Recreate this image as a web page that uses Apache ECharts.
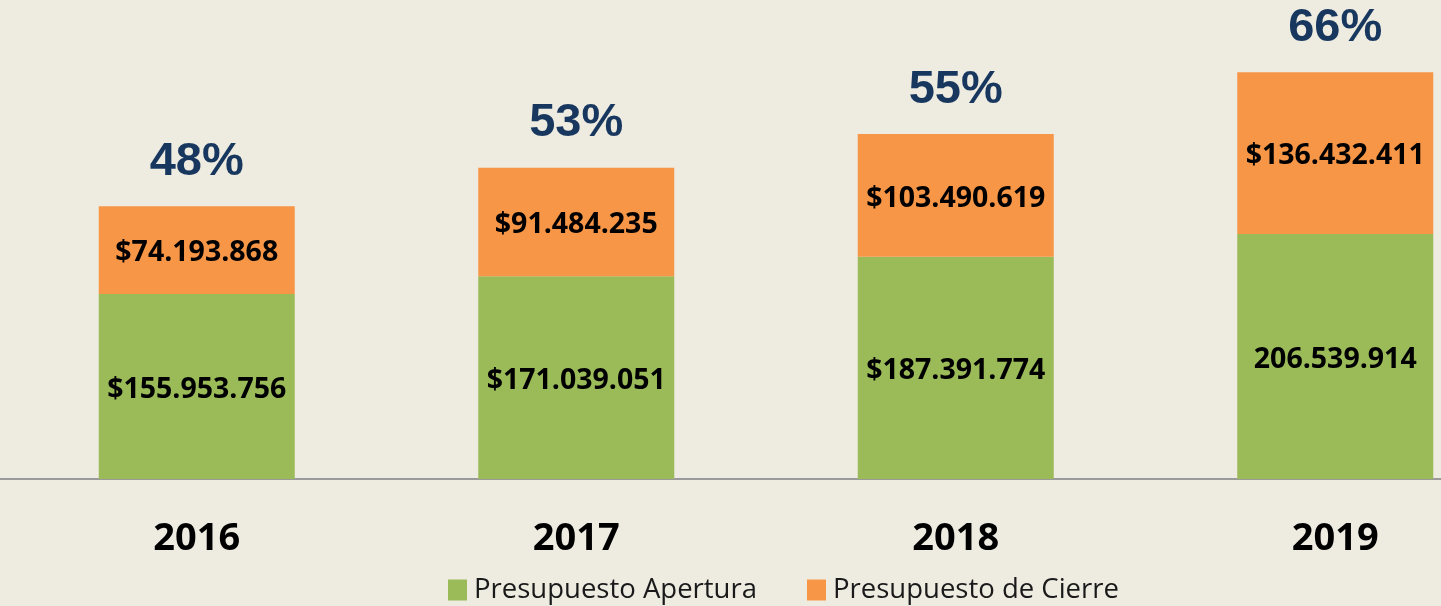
<!DOCTYPE html>
<html>
<head>
<meta charset="utf-8">
<script src="https://cdn.jsdelivr.net/npm/echarts@6/dist/echarts.min.js"></script>
<style>
  html, body { margin: 0; padding: 0; background: #EEEBE1; overflow: hidden; }
  #chart { width: 1525px; height: 606px; }
</style>
</head>
<body>
<div id="chart"></div>
<script>
// Budget per year: opening budget and closing budget
const years = ['2016', '2017', '2018', '2019'];
const apertura = [155953756, 171039051, 187391774, 206539914];
const cierre = [74193868, 91484235, 103490619, 136432411];
const aperturaPrefix = ['$', '$', '$', ''];
const cierrePrefix = ['$', '$', '$', '$'];
const pctLabels = ['48%', '53%', '55%', '66%'];

function fmt(v) {
  return String(v).replace(/\B(?=(\d{3})+(?!\d))/g, '.');
}

const valueLabel = {
  show: true,
  position: 'inside',
  offset: [0, 3],
  fontFamily: 'Open Sans',
  fontWeight: 'bold',
  fontSize: 28.5,
  color: '#000'
};

const chart = echarts.init(document.getElementById('chart'));
chart.setOption({
  backgroundColor: '#EEEBE1',
  animation: false,
  grid: { left: 7, right: 0, top: 0, bottom: 127 },
  legend: {
    data: ['Presupuesto Apertura', 'Presupuesto de Cierre'],
    left: 443,
    bottom: -3,
    itemWidth: 19,
    itemHeight: 21,
    itemGap: 50,
    icon: 'rect',
    textStyle: { fontFamily: 'Open Sans', fontSize: 27.5, color: '#1a1a1a', padding: [0, 0, 0, 2] }
  },
  xAxis: {
    type: 'category',
    data: years,
    axisLine: { lineStyle: { color: '#9a9a9a', width: 2 } },
    axisTick: { show: false },
    axisLabel: {
      margin: 41,
      fontFamily: 'Open Sans',
      fontWeight: 'bold',
      fontSize: 38,
      color: '#000'
    }
  },
  yAxis: {
    type: 'value',
    min: 0,
    max: 404000000,
    show: false,
    splitLine: { show: false }
  },
  // baseline continues to the left page edge
  graphic: [{
    type: 'line',
    shape: { x1: 0, y1: 479, x2: 8, y2: 479 },
    style: { stroke: '#9a9a9a', lineWidth: 2 }
  }],
  series: [
    {
      name: 'Presupuesto Apertura',
      type: 'bar',
      stack: 'total',
      barWidth: 196,
      data: apertura,
      itemStyle: { color: '#9BBB59' },
      label: Object.assign({}, valueLabel, {
        formatter: p => aperturaPrefix[p.dataIndex] + fmt(p.value)
      })
    },
    {
      name: 'Presupuesto de Cierre',
      type: 'bar',
      stack: 'total',
      barWidth: 196,
      data: cierre,
      itemStyle: { color: '#F79646' },
      label: Object.assign({}, valueLabel, {
        formatter: p => cierrePrefix[p.dataIndex] + fmt(p.value)
      })
    },
    {
      // zero-height cap that carries the share label above each stack
      name: 'pct',
      type: 'bar',
      stack: 'total',
      barWidth: 196,
      data: years.map(() => 0),
      itemStyle: { color: 'transparent' },
      label: {
        show: true,
        position: 'top',
        distance: 21,
        fontFamily: 'Liberation Sans',
        fontWeight: 'bold',
        fontSize: 47,
        lineHeight: 47,
        color: '#17375E',
        formatter: p => pctLabels[p.dataIndex]
      }
    }
  ]
});
</script>
</body>
</html>
